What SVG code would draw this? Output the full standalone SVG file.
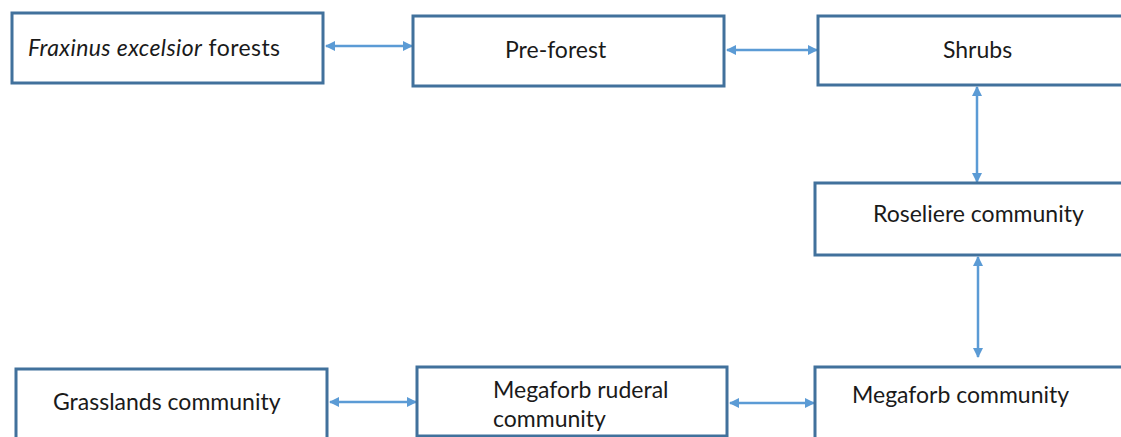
<svg xmlns="http://www.w3.org/2000/svg" width="1121" height="437" viewBox="0 0 1121 437">
<style>
.box{fill:#fff;stroke:#41719c;stroke-width:3}
.t{font-family:Lato,"Liberation Sans",sans-serif;font-size:23px;fill:#1a1a1a}
.c{stroke:#5b9bd5;stroke-width:2.5;fill:none;marker-start:url(#a);marker-end:url(#a)}
</style>
<defs>
<marker id="a" viewBox="0 0 10 10" refX="9" refY="5" markerWidth="4" markerHeight="4" orient="auto-start-reverse" markerUnits="strokeWidth">
<path d="M0,0 L10,5 L0,10 z" fill="#5b9bd5"/>
</marker>
</defs>
<rect width="1121" height="437" fill="#fff"/>
<g id="connectors">
<line class="c" x1="326" y1="46" x2="412" y2="46"/>
<line class="c" x1="727" y1="50" x2="817" y2="50"/>
<line class="c" x1="977" y1="87" x2="977" y2="182"/>
<line class="c" x1="978" y1="257" x2="978" y2="357"/>
<line class="c" x1="330" y1="402" x2="416" y2="402"/>
<line class="c" x1="730" y1="403" x2="814" y2="403"/>
</g>
<g id="n1"><rect class="box" x="12" y="13" width="311" height="70"/><text class="t" x="28" y="56" textLength="252"><tspan font-style="italic">Fraxinus excelsior</tspan> forests</text></g>
<g id="n2"><rect class="box" x="413" y="16" width="311" height="70"/><text class="t" x="505" y="58">Pre-forest</text></g>
<g id="n3"><rect class="box" x="818" y="16" width="320" height="69"/><text class="t" x="943" y="58">Shrubs</text></g>
<g id="n4"><rect class="box" x="815" y="183" width="320" height="72"/><text class="t" x="873" y="222">Roseliere community</text></g>
<g id="n5"><rect class="box" x="815" y="367" width="320" height="80"/><text class="t" x="852" y="403">Megaforb community</text></g>
<g id="n6"><rect class="box" x="16" y="369" width="311" height="80"/><text class="t" x="53" y="410">Grasslands community</text></g>
<g id="n7"><rect class="box" x="417" y="367" width="310" height="69"/><text class="t" x="493" y="398">Megaforb ruderal</text><text class="t" x="493" y="427">community</text></g>
</svg>
